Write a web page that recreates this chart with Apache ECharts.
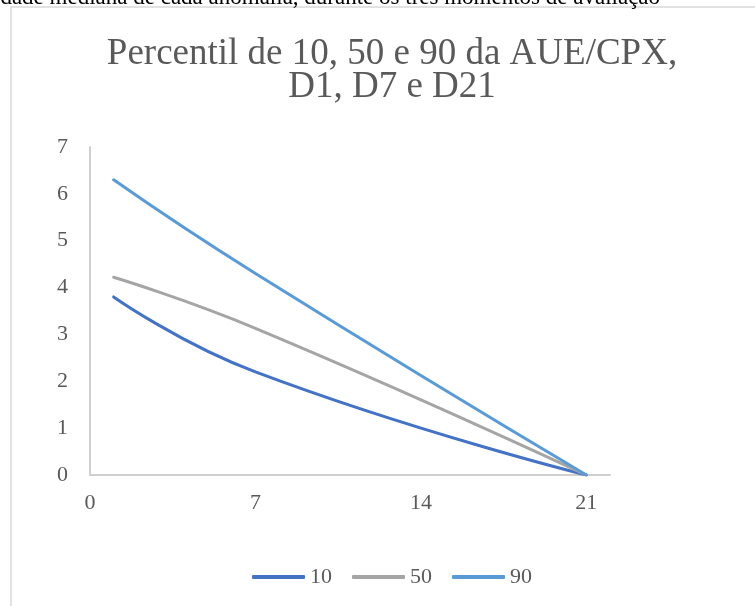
<!DOCTYPE html>
<html>
<head>
<meta charset="utf-8">
<script src="https://cdn.jsdelivr.net/npm/echarts@6/dist/echarts.min.js"></script>
<style>
  html, body { margin: 0; padding: 0; background: #fff; }
  #chart { width: 755px; height: 606px; }
</style>
</head>
<body>
<div id="chart"></div>
<script>
const titleText = 'Percentil de 10, 50 e 90 da AUE/CPX,\nD1, D7 e D21';
const docLineText = 'idade mediana de cada anomalia, durante os três momentos de avaliação';
const days = [1, 7, 21];
const p10 = [3.8, 2.2, 0];
const p50 = [4.22, 3.13, 0];
const p90 = [6.3, 4.3, 0];
const seriesNames = ['10', '50', '90'];
const seriesColors = ['#4472C4', '#A5A5A5', '#5B9BD5'];
const xTicks = [0, 7, 14, 21];
const yTicks = [0, 1, 2, 3, 4, 5, 6, 7];

const serif = 'Liberation Serif';
const pair = (vals) => days.map((d, i) => [d, vals[i]]);
const allVals = [p10, p50, p90];

const chart = echarts.init(document.getElementById('chart'), null, { renderer: 'canvas' });
chart.setOption({
  animation: false,
  backgroundColor: '#ffffff',
  graphic: [
    {
      type: 'rect', silent: true, z: -10,
      shape: { x: 11, y: 7, width: 900, height: 800 },
      style: { fill: '#ffffff', stroke: '#d9d9d9', lineWidth: 1.5 }
    },
    {
      type: 'text', silent: true, z: -5,
      x: -6, y: -14,
      style: {
        text: docLineText, fill: '#000000',
        fontFamily: serif, fontSize: 23, verticalAlign: 'top', align: 'left'
      }
    }
  ],
  title: {
    text: titleText,
    left: 387, top: 33, textAlign: 'center',
    textStyle: { fontFamily: serif, fontSize: 37, lineHeight: 33, fontWeight: 'normal', color: '#595959' }
  },
  legend: {
    left: 252, top: 566, padding: 0,
    icon: 'roundRect', itemWidth: 53, itemHeight: 4, itemGap: 20,
    textStyle: { fontFamily: serif, fontSize: 22, color: '#595959' },
    data: seriesNames
  },
  grid: { left: 90, right: 145, top: 147, bottom: 131 },
  xAxis: {
    type: 'value', min: 0, max: 22, interval: 7,
    axisLine: { show: true, lineStyle: { color: '#d0d0d0', width: 2 } },
    axisTick: { show: false },
    splitLine: { show: false },
    axisLabel: {
      margin: 17, fontFamily: serif, fontSize: 22, color: '#595959',
      showMaxLabel: false,
      formatter: (v) => (xTicks.indexOf(v) >= 0 ? String(v) : '')
    }
  },
  yAxis: {
    type: 'value', min: 0, max: 7, interval: 1,
    axisLine: { show: true, lineStyle: { color: '#d0d0d0', width: 2 } },
    axisTick: { show: false },
    splitLine: { show: false },
    axisLabel: {
      margin: 22, fontFamily: serif, fontSize: 22, color: '#595959',
      formatter: (v) => (yTicks.indexOf(v) >= 0 ? String(v) : '')
    }
  },
  series: seriesNames.map((name, i) => ({
    name: name,
    type: 'line',
    smooth: true,
    showSymbol: false,
    symbol: 'none',
    data: pair(allVals[i]),
    lineStyle: { color: seriesColors[i], width: 3, cap: 'round' },
    itemStyle: { color: seriesColors[i] }
  }))
});
</script>
</body>
</html>
